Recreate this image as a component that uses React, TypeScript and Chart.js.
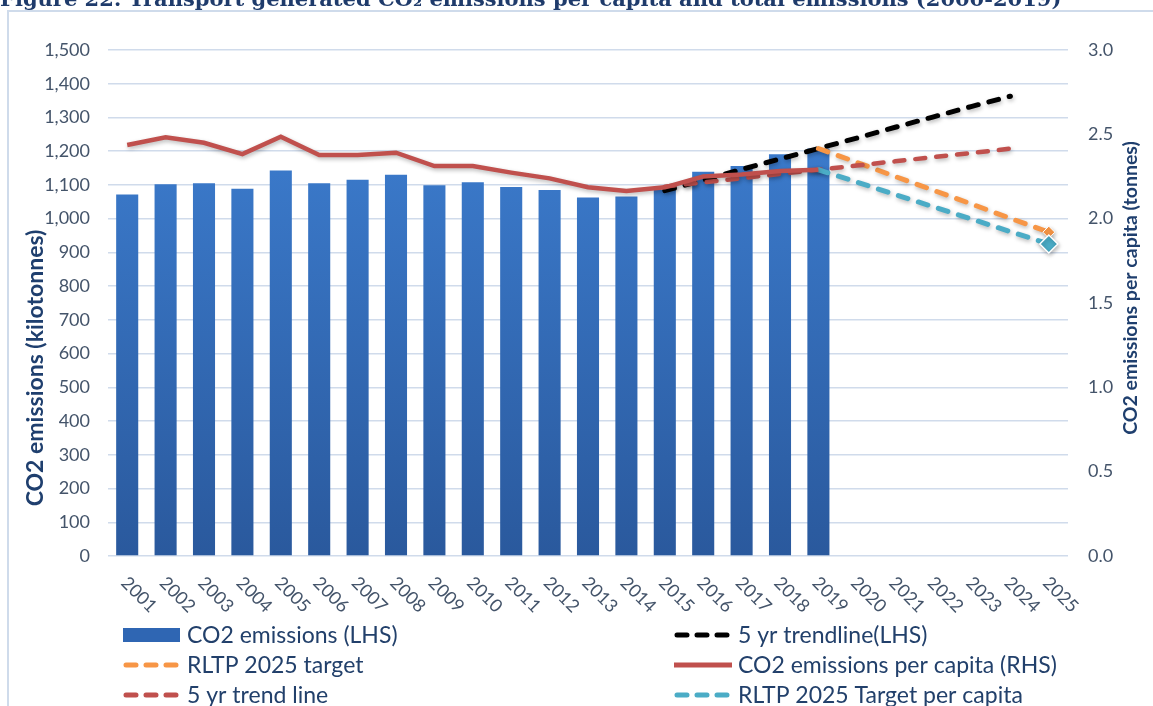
import React, { useEffect, useRef } from 'react';
import { Chart, registerables } from 'chart.js';

Chart.register(...registerables);

// ---------- data ----------
const years = [
  '2001', '2002', '2003', '2004', '2005', '2006', '2007', '2008', '2009', '2010',
  '2011', '2012', '2013', '2014', '2015', '2016', '2017', '2018', '2019', '2020',
  '2021', '2022', '2023', '2024', '2025',
];

// CO2 emissions (kilotonnes) – bars, LHS
const co2Emissions = [
  1072, 1102, 1105, 1089, 1143, 1105, 1115, 1130, 1099, 1108,
  1094, 1085, 1063, 1066, 1086, 1139, 1156, 1191, 1208, null,
  null, null, null, null, null,
];

// 5 yr trendline (LHS)
const trendLHS = [
  null, null, null, null, null, null, null, null, null, null,
  null, null, null, null, 1083, 1114, 1146, 1177, 1208, 1239,
  1271, 1302, 1333, 1363, null,
];

// RLTP 2025 target (LHS)
const rltpTarget = [
  null, null, null, null, null, null, null, null, null, null,
  null, null, null, null, null, null, null, null, 1208, 1167,
  1125, 1084, 1043, 1001, 960,
];

// CO2 emissions per capita (RHS, tonnes)
const perCapita = [
  2.437, 2.482, 2.450, 2.383, 2.486, 2.377, 2.377, 2.391, 2.312, 2.312,
  2.273, 2.239, 2.186, 2.164, 2.186, 2.250, 2.262, 2.282, 2.290, null,
  null, null, null, null, null,
];

// 5 yr trend line (RHS)
const trendRHS = [
  null, null, null, null, null, null, null, null, null, null,
  null, null, null, null, 2.19, 2.215, 2.24, 2.265, 2.29, 2.315,
  2.34, 2.365, 2.39, 2.415, null,
];

// RLTP 2025 Target per capita (RHS)
const rltpPerCapita = [
  null, null, null, null, null, null, null, null, null, null,
  null, null, null, null, null, null, null, null, 2.29, 2.217,
  2.143, 2.07, 1.997, 1.923, 1.85,
];

const leftAxisTicks = [0, 100, 200, 300, 400, 500, 600, 700, 800, 900, 1000, 1100, 1200, 1300, 1400, 1500];
const rightAxisTicks = [0, 0.5, 1.0, 1.5, 2.0, 2.5, 3.0];

const titleText = 'Figure 22: Transport generated CO\u2082 emissions per capita and total emissions (2000-2019)';
const leftAxisTitle = 'CO2 emissions (kilotonnes)';
const rightAxisTitle = 'CO2 emissions per capita (tonnes)';

// legend layout: [dataset label, column, row]
const legendLayout: [string, number, number][] = [
  ['CO2 emissions (LHS)', 0, 0],
  ['5 yr trendline(LHS)', 1, 0],
  ['RLTP 2025 target', 0, 1],
  ['CO2 emissions per capita (RHS)', 1, 1],
  ['5 yr trend line', 0, 2],
  ['RLTP 2025 Target per capita', 1, 2],
];

const FONT = 'Lato, "Open Sans", sans-serif';
const TICK_COLOR = '#44546a';
const TITLE_COLOR = '#1f3f6e';
const LEGEND_COLOR = '#22406b';

const BLUE = '#3572c4';
const RED = '#c0504d';
const ORANGE = '#f79646';
const TEAL = '#4bacc6';

const overlayPlugin = {
  id: 'overlay',
  beforeDatasetDraw(chart: any, args: any) {
    const ds = chart.data.datasets[args.index];
    if (ds.type === 'line') {
      const ctx = chart.ctx;
      ctx.save();
      ctx.shadowColor = 'rgba(0,0,0,0.28)';
      ctx.shadowBlur = 4;
      ctx.shadowOffsetX = 1;
      ctx.shadowOffsetY = 2;
    }
  },
  afterDatasetDraw(chart: any, args: any) {
    const ds = chart.data.datasets[args.index];
    if (ds.type === 'line') chart.ctx.restore();
  },
  afterDraw(chart: any) {
    const ctx = chart.ctx;
    const area = chart.chartArea;
    const xs = chart.scales.x;

    // rotated x labels (+45deg)
    ctx.save();
    ctx.fillStyle = TICK_COLOR;
    ctx.font = `18px ${FONT}`;
    ctx.textAlign = 'left';
    ctx.textBaseline = 'middle';
    chart.data.labels.forEach((lab: string, i: number) => {
      const x = xs.getPixelForValue(i);
      ctx.save();
      ctx.translate(x - 3, area.bottom + 24);
      ctx.rotate(Math.PI / 4);
      ctx.fillText(lab, 0, 0);
      ctx.restore();
    });
    ctx.restore();

    // axis titles
    ctx.save();
    ctx.fillStyle = TITLE_COLOR;
    ctx.textAlign = 'center';
    ctx.textBaseline = 'middle';
    ctx.font = `bold 23px ${FONT}`;
    ctx.translate(36, 368);
    ctx.rotate(-Math.PI / 2);
    ctx.fillText(leftAxisTitle, 0, 0);
    ctx.restore();

    ctx.save();
    ctx.fillStyle = TITLE_COLOR;
    ctx.textAlign = 'center';
    ctx.textBaseline = 'middle';
    ctx.font = `bold 19.5px ${FONT}`;
    ctx.translate(1131, 288);
    ctx.rotate(-Math.PI / 2);
    ctx.fillText(rightAxisTitle, 0, 0);
    ctx.restore();

    // legend
    const colX = [123, 674];
    const rowY = [635, 665, 695];
    ctx.save();
    ctx.font = `23px ${FONT}`;
    ctx.textBaseline = 'middle';
    ctx.textAlign = 'left';
    legendLayout.forEach(([label, col, row]) => {
      const ds = chart.data.datasets.find((d: any) => d.label === label);
      if (!ds) return;
      const x0 = colX[col];
      const y = rowY[row];
      if (ds.type === 'bar') {
        ctx.fillStyle = '#2f66b3';
        ctx.fillRect(x0, y - 7, 57, 14);
      } else {
        ctx.save();
        ctx.strokeStyle = ds.borderColor;
        ctx.lineWidth = 5;
        if (ds.borderDash && ds.borderDash.length) {
          ctx.lineCap = 'round';
          ctx.setLineDash([10, 10]);
          ctx.beginPath();
          ctx.moveTo(x0 + 3, y);
          ctx.lineTo(x0 + 57, y);
          ctx.stroke();
        } else {
          ctx.lineCap = 'butt';
          ctx.beginPath();
          ctx.moveTo(x0, y);
          ctx.lineTo(x0 + 58, y);
          ctx.stroke();
        }
        ctx.restore();
      }
      ctx.fillStyle = LEGEND_COLOR;
      ctx.fillText(label, x0 + 64, y + 1);
    });
    ctx.restore();
  },
};

export default function App() {
  const canvasRef = useRef<HTMLCanvasElement | null>(null);

  useEffect(() => {
    if (!canvasRef.current) return;
    const lastIdx = years.length - 1;
    const barGradient = (c: any) => {
      const chart = c.chart;
      const a = chart.chartArea;
      if (!a) return BLUE;
      const g = chart.ctx.createLinearGradient(0, a.top, 0, a.bottom);
      g.addColorStop(0, '#3f82d6');
      g.addColorStop(1, '#2a599d');
      return g;
    };
    const chart = new Chart(canvasRef.current, {
      data: {
        labels: years,
        datasets: [
          {
            type: 'line',
            label: 'CO2 emissions per capita (RHS)',
            data: perCapita,
            yAxisID: 'y1',
            borderColor: RED,
            backgroundColor: RED,
            borderWidth: 4.5,
            pointRadius: 0,
            tension: 0,
            order: 1,
          },
          {
            type: 'line',
            label: 'RLTP 2025 Target per capita',
            data: rltpPerCapita,
            yAxisID: 'y1',
            borderColor: TEAL,
            backgroundColor: TEAL,
            borderWidth: 5,
            borderDash: [10, 11],
            borderCapStyle: 'round',
            pointStyle: 'rectRot',
            pointRadius: (c: any) => (c.dataIndex === lastIdx ? 9 : 0),
            pointBorderColor: '#ffffff',
            pointBorderWidth: 1.5,
            pointBackgroundColor: TEAL,
            order: 2,
          },
          {
            type: 'line',
            label: '5 yr trend line',
            data: trendRHS,
            yAxisID: 'y1',
            borderColor: RED,
            backgroundColor: RED,
            borderWidth: 4.5,
            borderDash: [10, 11],
            borderCapStyle: 'round',
            pointRadius: 0,
            order: 3,
          },
          {
            type: 'line',
            label: 'RLTP 2025 target',
            data: rltpTarget,
            yAxisID: 'y',
            borderColor: ORANGE,
            backgroundColor: ORANGE,
            borderWidth: 5,
            borderDash: [10, 11],
            borderCapStyle: 'round',
            pointStyle: 'rectRot',
            pointRadius: (c: any) => (c.dataIndex === lastIdx ? 6 : 0),
            pointBorderColor: '#ffffff',
            pointBorderWidth: 1,
            pointBackgroundColor: ORANGE,
            order: 4,
          },
          {
            type: 'line',
            label: '5 yr trendline(LHS)',
            data: trendLHS,
            yAxisID: 'y',
            borderColor: '#000000',
            backgroundColor: '#000000',
            borderWidth: 5,
            borderDash: [10, 11],
            borderCapStyle: 'round',
            pointRadius: 0,
            order: 5,
          },
          {
            type: 'bar',
            label: 'CO2 emissions (LHS)',
            data: co2Emissions,
            yAxisID: 'y',
            backgroundColor: barGradient,
            borderWidth: 0,
            categoryPercentage: 1,
            barPercentage: 0.575,
            order: 10,
          },
        ],
      } as any,
      options: {
        responsive: false,
        animation: false,
        devicePixelRatio: 1,
        layout: { padding: { top: 50, left: 0, right: 0, bottom: 0 } },
        plugins: {
          legend: { display: false },
          tooltip: { enabled: false },
          title: { display: false },
        },
        scales: {
          x: {
            type: 'category',
            offset: true,
            grid: { display: false },
            border: { display: false },
            ticks: { display: false },
            afterFit: (s: any) => {
              s.height = 150;
            },
          },
          y: {
            type: 'linear',
            position: 'left',
            min: 0,
            max: 1500,
            afterBuildTicks: (s: any) => {
              s.ticks = leftAxisTicks.map((v) => ({ value: v }));
            },
            ticks: {
              color: TICK_COLOR,
              font: { family: FONT, size: 18 },
              padding: 18,
              callback: (v: any) => Number(v).toLocaleString('en-US'),
            },
            grid: { color: '#d0dbeb', lineWidth: 1.5, drawTicks: false },
            border: { display: false },
            afterFit: (s: any) => {
              s.width = 108;
            },
          },
          y1: {
            type: 'linear',
            position: 'right',
            min: 0,
            max: 3,
            afterBuildTicks: (s: any) => {
              s.ticks = rightAxisTicks.map((v) => ({ value: v }));
            },
            ticks: {
              color: TICK_COLOR,
              font: { family: FONT, size: 18 },
              padding: 20,
              callback: (v: any) => Number(v).toFixed(1),
            },
            grid: { display: false, drawTicks: false },
            border: { display: false },
            afterFit: (s: any) => {
              s.width = 85;
            },
          },
        },
      } as any,
      plugins: [overlayPlugin],
    });
    return () => chart.destroy();
  }, []);

  return (
    <div
      style={{
        position: 'absolute',
        left: 0,
        top: 0,
        width: 1153,
        height: 706,
        overflow: 'hidden',
        background: '#ffffff',
      }}
    >
      <div
        style={{
          position: 'absolute',
          left: 7,
          top: 10,
          width: 1200,
          height: 760,
          border: '2px solid #cfdbeb',
          background: '#ffffff',
        }}
      />
      <canvas
        ref={canvasRef}
        width={1153}
        height={706}
        style={{ position: 'absolute', left: 0, top: 0 }}
      />
      <div
        style={{
          position: 'absolute',
          left: 0,
          top: -12,
          whiteSpace: 'nowrap',
          fontFamily: '"DejaVu Serif", serif',
          fontWeight: 'bold',
          fontSize: 21,
          lineHeight: '21px',
          color: '#1f3b6b',
        }}
      >
        {titleText}
      </div>
    </div>
  );
}
